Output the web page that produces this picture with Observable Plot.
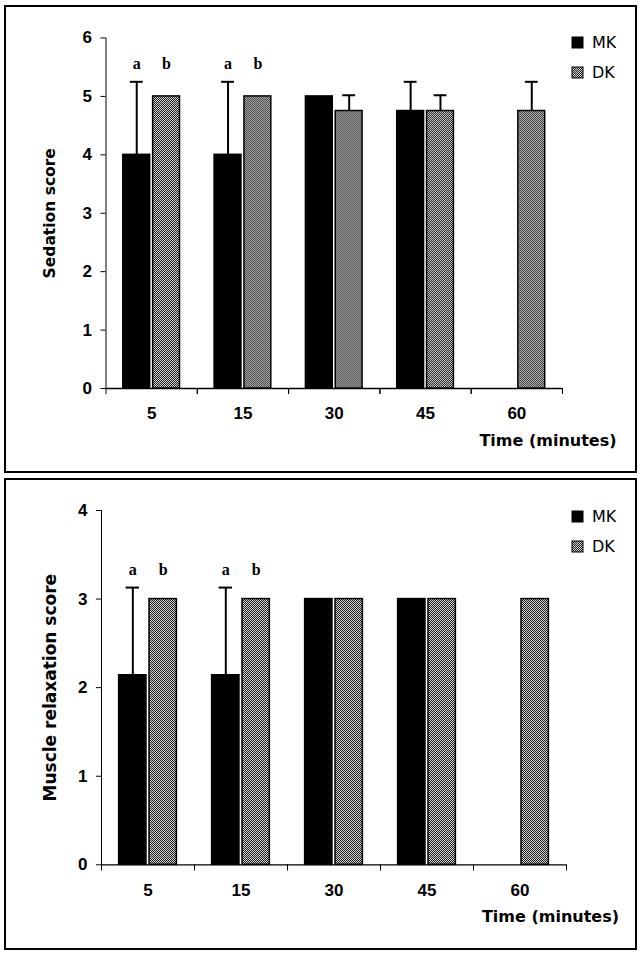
<!DOCTYPE html>
<html><head><meta charset="utf-8">
<script src="https://cdn.jsdelivr.net/npm/d3@7"></script>
<script src="https://cdn.jsdelivr.net/npm/@observablehq/plot@0.6"></script>
<style>
html,body{margin:0;padding:0;background:#fff;}
body{width:643px;height:956px;position:relative;overflow:hidden;}
.panel{position:absolute;left:4px;width:629px;border:2px solid #000;background:#fff;}
#p1{top:5px;height:464px;}
#p2{top:478px;height:468px;}
.panel > svg{position:absolute;left:0;top:0;}
.leg{position:absolute;left:566px;}
.lg-swatches{font:16px "DejaVu Sans",sans-serif;color:#000;margin:0 !important;}
.lg-swatch{height:30px;padding-bottom:0 !important;}
.lg-swatch > svg{margin-right:9px !important;}
.lg-swatch rect{stroke:#000;stroke-width:1px;}
</style></head>
<body>
<svg width="0" height="0" style="position:absolute;left:0;top:0">
  <defs>
    <pattern id="dkpat" width="2" height="2" patternUnits="userSpaceOnUse">
      <rect width="2" height="2" fill="#d4d4d4"/>
      <rect width="1" height="1" fill="#1e1e1e"/>
      <rect x="1" y="1" width="1" height="1" fill="#1e1e1e"/>
    </pattern>
  </defs>
</svg>
<div class="panel" id="p1"></div>
<div class="panel" id="p2"></div>
<script>
// ---- data ----
const times = [5, 15, 30, 45, 60];
const groups = ["MK", "DK"];
const xTitle = "Time (minutes)";

// Sedation score (top panel)
const sedTitle = "Sedation score";
const sedMax = 6;
const sedMK   = [4.0, 4.0, 5.0, 4.75, null];
const sedMKsd = [1.25, 1.25, 0, 0.5, null];
const sedDK   = [5.0, 5.0, 4.75, 4.75, 4.75];
const sedDKsd = [0, 0, 0.27, 0.27, 0.5];
const sedSigTimes = [5, 15];
const sedSigMK = ["a", "a"];
const sedSigDK = ["b", "b"];
const sedSigY = 5.55;

// Muscle relaxation score (bottom panel)
const musTitle = "Muscle relaxation score";
const musMax = 4;
const musMK   = [2.14, 2.14, 3.0, 3.0, null];
const musMKsd = [0.99, 0.99, 0, 0, null];
const musDK   = [3.0, 3.0, 3.0, 3.0, 3.0];
const musDKsd = [0, 0, 0, 0, 0];
const musSigTimes = [5, 15];
const musSigMK = ["a", "a"];
const musSigDK = ["b", "b"];
const musSigY = 3.33;

const fills = ["#000", "url(#dkpat)"];

function buildRows(mk, mkSd, dk, dkSd) {
  const out = [];
  times.forEach((t, i) => {
    if (mk[i] != null) out.push({time: t, group: "MK", value: mk[i], sd: mkSd[i]});
    if (dk[i] != null) out.push({time: t, group: "DK", value: dk[i], sd: dkSd[i]});
  });
  return out;
}
function buildLetters(ts, mkL, dkL, yv) {
  const out = [];
  ts.forEach((t, i) => {
    out.push({time: t, group: "MK", letter: mkL[i], y: yv});
    out.push({time: t, group: "DK", letter: dkL[i], y: yv});
  });
  return out;
}

function makeChart(o) {
  const innerH = o.height - o.mt - o.mb;
  const err = o.data.filter(d => d.sd > 0);
  return Plot.plot({
    width: o.width, height: o.height,
    marginTop: o.mt, marginRight: o.mr, marginBottom: o.mb, marginLeft: o.ml,
    style: {fontFamily: "'Liberation Sans', Arial, sans-serif", fontSize: "17px", fontWeight: "bold", color: "#000", background: "transparent", overflow: "visible"},
    fx: {domain: times, padding: 0, round: false, axis: "bottom", tickSize: 0, tickPadding: o.fxPad, label: null},
    x: {domain: groups, paddingInner: 0.1, paddingOuter: 0.58, round: false, axis: null},
    y: {domain: [0, o.yMax], ticks: o.yMax, tickFormat: "d", line: true, tickSize: 5, tickPadding: 9, label: null},
    color: {domain: groups, range: fills},
    marks: [
      Plot.ruleY([0], {strokeWidth: 1.3}),
      Plot.frame({anchor: "left", insetTop: innerH, insetBottom: -5}),
      Plot.frame({anchor: "right", insetTop: innerH, insetBottom: -5}),
      Plot.ruleX(err, {fx: "time", x: "group", y1: "value", y2: d => d.value + d.sd, strokeWidth: 2}),
      Plot.barY(o.data, {fx: "time", x: "group", y: "value", fill: "group", stroke: "#000", strokeWidth: 1.5}),
      Plot.tickY(err, {fx: "time", x: "group", y: d => d.value + d.sd, insetLeft: 7, insetRight: 7, strokeWidth: 2}),
      Plot.text(o.letters, {fx: "time", x: "group", y: "y", text: "letter", fontFamily: "'Liberation Serif', serif", fontSize: 16, fontWeight: "bold"}),
      Plot.text([o.yTitle], {facet: "super", text: d => d, frameAnchor: "left", textAnchor: "middle", lineAnchor: "middle", rotate: -90, dx: o.yDx, fontFamily: "'DejaVu Sans', sans-serif", fontSize: o.yFs, fontWeight: "bold"}),
      Plot.text([xTitle], {facet: "super", text: d => d, frameAnchor: "bottom-right", textAnchor: "end", dx: o.xDx, dy: o.xDy, fontFamily: "'DejaVu Sans', sans-serif", fontSize: 16, fontWeight: "bold"})
    ]
  });
}

function makeLegend() {
  return Plot.legend({color: {domain: groups, range: fills}, columns: 1, swatchSize: 11, className: "lg"});
}

const c1 = makeChart({
  data: buildRows(sedMK, sedMKsd, sedDK, sedDKsd),
  letters: buildLetters(sedSigTimes, sedSigMK, sedSigDK, sedSigY),
  yMax: sedMax, yTitle: sedTitle, yFs: 15.5,
  width: 629, height: 464, mt: 30.5, mr: 73, mb: 83, ml: 99.5,
  fxPad: 18, yDx: -55.5, xDx: 54, xDy: 57
});
document.getElementById("p1").appendChild(c1);
const l1 = document.createElement("div");
l1.className = "leg"; l1.style.top = "20.5px";
l1.appendChild(makeLegend());
document.getElementById("p1").appendChild(l1);

const c2 = makeChart({
  data: buildRows(musMK, musMKsd, musDK, musDKsd),
  letters: buildLetters(musSigTimes, musSigMK, musSigDK, musSigY),
  yMax: musMax, yTitle: musTitle, yFs: 17,
  width: 629, height: 468, mt: 30, mr: 69, mb: 83.7, ml: 95,
  fxPad: 19, yDx: -51, xDx: 52.5, xDy: 57.4
});
document.getElementById("p2").appendChild(c2);
const l2 = document.createElement("div");
l2.className = "leg"; l2.style.top = "21px";
l2.appendChild(makeLegend());
document.getElementById("p2").appendChild(l2);
</script>
</body></html>
